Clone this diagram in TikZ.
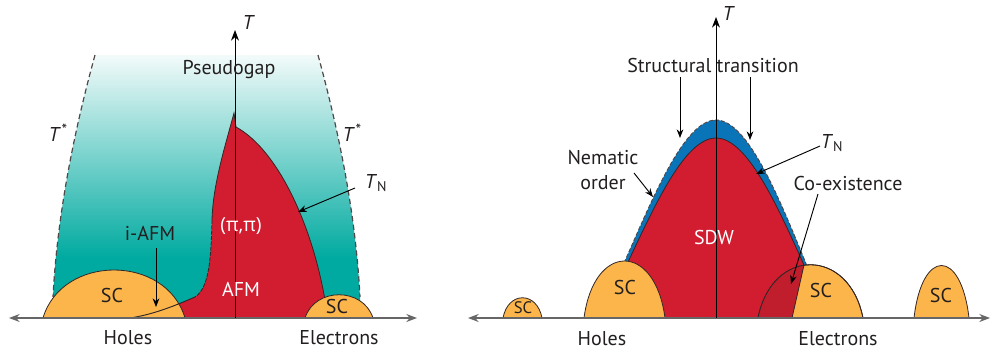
\documentclass[tikz,border=0pt]{standalone}
\usepackage{fontspec}
\setmainfont{PT Sans}
\newfontfamily\grk{Open Sans}
\usetikzlibrary{arrows.meta}
\definecolor{tealc}{RGB}{0,170,160}
\definecolor{redc}{RGB}{210,28,48}
\definecolor{coexc}{RGB}{192,30,44}
\definecolor{bluec}{RGB}{10,116,184}
\definecolor{orangec}{RGB}{251,181,74}
\definecolor{outl}{RGB}{50,38,38}
\definecolor{txt}{RGB}{35,31,32}
\newcommand{\tstar}{\textit{T}\kern0.5pt\raisebox{0.55ex}{\fontsize{12}{12}\selectfont *}}
\begin{document}
\begin{tikzpicture}[x=0.75pt,y=-0.75pt,
  font=\fontsize{15}{18}\selectfont,
  lbl/.style={text=txt,inner sep=0pt},
  wlbl/.style={text=white,inner sep=0pt},
  edgeline/.style={draw=outl,line width=0.6pt},
  dashline/.style={draw=outl!85,line width=0.9pt,dash pattern=on 4pt off 2.5pt},
  ptr/.style={draw=black,line width=0.7pt,-{Stealth[length=6.5pt,width=5pt]}},
  taxis/.style={draw=black,line width=0.7pt,-{Stealth[length=8pt,width=6pt]}},
  haxis/.style={draw=gray!80!black,line width=1pt,{Stealth[length=8pt,width=6pt]}-{Stealth[length=8pt,width=6pt]}},
  dome/.style={fill=orangec,draw=outl,line width=0.6pt}]
\useasboundingbox (0,0) rectangle (992,357);

% ================= LEFT PANEL =================
\begin{scope}
\clip (95,55) .. controls (80,110) and (58,200) .. (53,297) -- (53,318) -- (360,318) -- (360,297) .. controls (355,200) and (333,110) .. (318,55) -- cycle;
\shade[top color=tealc!5!white, bottom color=tealc] (40,55) rectangle (380,258);
\fill[tealc] (40,257) rectangle (380,320);
\end{scope}
\draw[dashline] (95,55) .. controls (80,110) and (58,200) .. (53,297);
\draw[dashline] (318,55) .. controls (333,110) and (355,200) .. (360,297);

% AFM region
\fill[redc] (234,113) .. controls (224,150) and (213,185) .. (212,220)
  .. controls (211,260) and (209,288) .. (195,297)
  .. controls (170,308) and (150,315) .. (130,318) -- (326,318) -- (325,300)
  .. controls (312,225) and (278,150) .. (236,127) -- cycle;
\draw[edgeline] (212,220) .. controls (213,185) and (224,150) .. (234,113) -- (236,127)
  .. controls (278,150) and (312,225) .. (325,300);
\draw[edgeline,dash pattern=on 3pt off 1pt] (212,220) .. controls (211,260) and (209,288) .. (195,297);

% SC domes
\draw[dome] (43,318) .. controls (62,254) and (166,254) .. (185,318) -- cycle;
\draw[dome] (305,318) .. controls (315,287) and (363,287) .. (373,318) -- cycle;
\draw[edgeline,line width=0.7pt] (195,297) .. controls (170,308) and (150,315) .. (130,318);

% axes
\draw[haxis] (9,318) -- (417,318);
\coordinate (tlo) at (235,318);
\coordinate (thi) at (235,30);
\draw[taxis] (tlo) -- (thi);

% labels
\node[lbl,font=\fontsize{15}{18}\selectfont\itshape] (tL) at (248,22) {T};
\node[lbl] (pg) at (229,70) {Pseudogap};
\node[lbl] (tsl) at (58,133) {\tstar};
\node[lbl] (tsr) at (352,133) {\tstar};
\node[lbl] (tnl) at (376,183) {\textit{T}\textsubscript{N}};
\node[wlbl] (pipi) at (241,226) {{\grk\fontsize{14.5}{17}\selectfont(π,π)}};
\node[wlbl] (afm) at (241,289) {AFM};
\node[lbl] (iafm) at (150,233) {i-AFM};
\node[lbl] (sc1) at (112,295) {SC};
\node[lbl] (sc2) at (337,306) {SC};
\node[lbl] (holesL) at (128,338) {Holes};
\node[lbl] (elecL) at (339,338) {Electrons};
\coordinate (tnla) at (355,188);
\coordinate (tnlt) at (298,212);
\draw[ptr] (tnla) -- (tnlt);
\coordinate (iafma) at (156,248);
\coordinate (iafmt) at (156,307);
\draw[ptr] (iafma) -- (iafmt);

% ================= RIGHT PANEL =================
% blue band
\fill[bluec] (624,263) .. controls (652,200) and (684,120) .. (716,120) .. controls (748,120) and (780,200) .. (807,266) -- cycle;
% SDW region
\fill[redc] (628,262) .. controls (655,205) and (685,138) .. (716,138) .. controls (747,138) and (777,205) .. (804,265) -- (792,318) -- (640,318) -- cycle;
\draw[dashline,line width=0.7pt,dash pattern=on 3pt off 1.5pt] (624,263) .. controls (652,200) and (684,120) .. (716,120) .. controls (748,120) and (780,200) .. (807,266);
\draw[edgeline] (628,262) .. controls (655,205) and (685,138) .. (716,138) .. controls (747,138) and (777,205) .. (804,265);

% SC domes
\draw[dome] (503,318) .. controls (508,291) and (537,291) .. (542,318) -- cycle;
\draw[dome] (584,318) .. controls (594,242) and (655,242) .. (665,318) -- cycle;
\draw[dome] (758,318) .. controls (772,247) and (849,247) .. (863,318) -- cycle;
\draw[dome] (914,318) .. controls (922,248) and (961,248) .. (969,318) -- cycle;
% co-existence
\begin{scope}
\clip (758,318) .. controls (772,247) and (849,247) .. (863,318) -- cycle;
\fill[coexc] (700,250) -- (804,250) -- (804,265) -- (792,318) -- (700,318) -- cycle;
\end{scope}
\draw[edgeline] (758,318) .. controls (772,247) and (849,247) .. (863,318);
\draw[edgeline] (804,265) -- (792,318);

% axes
\draw[haxis] (468,318) -- (990,318);
\coordinate (tro) at (716,318);
\coordinate (trh) at (716,17);
\draw[taxis] (tro) -- (trh);

% labels
\node[lbl,font=\fontsize{15}{18}\selectfont\itshape] (tR) at (728,13) {T};
\node[lbl] (st) at (713,65) {Structural transition};
\node[lbl] (nem) at (603,158) {Nematic};
\node[lbl] (ord) at (603,183) {order};
\node[lbl] (tnr) at (832,143) {\textit{T}\textsubscript{N}};
\node[lbl] (coex) at (848,183) {Co-existence};
\node[wlbl] (sdw) at (714,237) {SDW};
\node[lbl,font=\fontsize{12.5}{15}\selectfont] (sc3) at (523,308) {SC};
\node[lbl] (sc4) at (625,287) {SC};
\node[lbl] (sc5) at (821,290) {SC};
\node[lbl] (sc6) at (941,295) {SC};
\node[lbl] (holesR) at (602,339) {Holes};
\node[lbl] (elecR) at (838,339) {Electrons};

\coordinate (sta1) at (680,77);
\coordinate (stt1) at (680,138);
\coordinate (sta2) at (750,77);
\coordinate (stt2) at (750,140);
\draw[ptr] (sta1) -- (stt1);
\draw[ptr] (sta2) -- (stt2);
\coordinate (nema) at (634,173);
\coordinate (nemt) at (653,197);
\draw[ptr] (nema) -- (nemt);
\coordinate (tnra) at (820,146);
\coordinate (tnrt) at (756,174);
\draw[ptr] (tnra) -- (tnrt);
\coordinate (coexa) at (818,194);
\coordinate (coext) at (791,284);
\draw[ptr] (coexa) -- (coext);
\end{tikzpicture}
\end{document}
